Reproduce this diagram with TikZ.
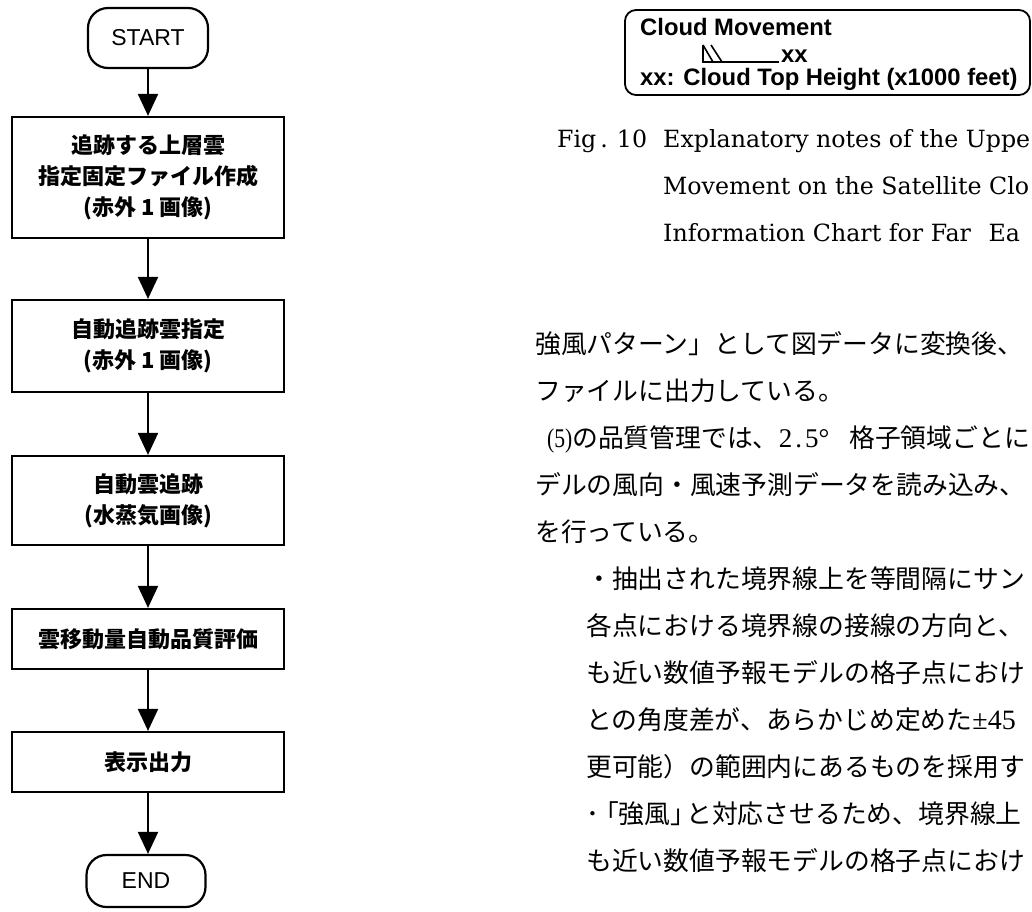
\documentclass[tikz,border=0pt]{standalone}
\usepackage{fontspec}
\usepackage{graphicx}
\usetikzlibrary{arrows.meta}
\newfontfamily\jpfont{Noto Sans CJK JP}
\newfontfamily\helfont{Liberation Sans}
\newfontfamily\serfont{DejaVu Serif}
\newfontfamily\timesfont{Liberation Serif}
\begin{document}
\begin{tikzpicture}[x=1pt,y=-1pt,
  termbox/.style={draw, line width=2.2pt, rounded corners=20pt, minimum width=120pt, minimum height=60pt, inner sep=0pt, font=\helfont\fontsize{23}{23}\selectfont},
  procbox/.style={draw, line width=2.2pt, minimum width=272pt, inner sep=0pt, align=center, font=\jpfont\bfseries\fontsize{22}{31}\selectfont},
  flow/.style={line width=2pt, -{Triangle[width=20pt,length=22pt]}},
  body/.style={anchor=base west, inner sep=0pt, font=\jpfont\fontsize{25.8}{25.8}\selectfont},
  captext/.style={anchor=base west, inner sep=0pt, font=\serfont\fontsize{23.7}{23.7}\selectfont},
  legend/.style={anchor=base west, inner sep=0pt, font=\helfont\bfseries\fontsize{23.8}{23.8}\selectfont},
]
\useasboundingbox (0,0) rectangle (1032,911);
\clip (0,0) rectangle (1032,911);
% flowchart
\node[termbox] (start) at (148,38) {START};
\node[procbox, minimum height=121pt] (b1) at (148,177.5) {追跡する上層雲\\指定固定ファイル作成\\(赤外 1 画像)};
\node[procbox, minimum height=92pt] (b2) at (148,346) {自動追跡雲指定\\(赤外 1 画像)};
\node[procbox, minimum height=89pt] (b3) at (148,500.5) {自動雲追跡\\(水蒸気画像)};
\node[procbox, minimum height=60pt] (b4) at (148,639) {雲移動量自動品質評価};
\node[procbox, minimum height=60pt] (b5) at (148,762) {表示出力};
\node[termbox, minimum width=119pt, minimum height=52pt] (end) at (146,881) {END};
\draw[flow] (start) -- (b1);
\draw[flow] (b1) -- (b2);
\draw[flow] (b2) -- (b3);
\draw[flow] (b3) -- (b4);
\draw[flow] (b4) -- (b5);
\draw[flow] (b5.south) -- (b5.south |- end.north);
% legend box
\node[draw, line width=1.8pt, rounded corners=11pt, minimum width=405pt, minimum height=85pt, inner sep=0pt] (lgbox) at (827.5,52.5) {};
\node[legend] (lg1) at (640,35) {Cloud Movement};
\node[legend] (lg2) at (781,62) {xx};
\node[legend] (lg3) at (640,85) {xx: Cloud Top Height (x1000 feet)};
\coordinate (s1) at (703,45);
\coordinate (s2) at (703,62);
\coordinate (s3) at (779,62);
\coordinate (s4) at (713,62);
\coordinate (s5) at (711,45);
\coordinate (s6) at (722,62);
\draw[line width=1.6pt] (s1) -- (s2) -- (s3);
\draw[line width=1.6pt] (s1) -- (s4);
\draw[line width=1.6pt] (s5) -- (s6);
% caption
\node[captext] (c0) at (557,147) {Fig\kern4pt.\kern9pt10};
\node[captext] (c1) at (663,147) {Explanatory notes of the Uppe};
\node[captext] (c2) at (663,194) {Movement on the Satellite Clo};
\node[captext] (c3) at (663,241) {Information Chart for Far\hspace{10pt} Ea};
% body text
\node[body] (t1) at (535,353) {強風パターン」として図データに変換後、};
\node[body] (t2) at (535,400) {ファイルに出力している。};
\node[body] (t3) at (547,447) {{\timesfont\fontsize{27}{27}\selectfont\scalebox{0.8}[1]{(5)}}の品質管理では、{\timesfont\fontsize{27}{27}\selectfont 2\kern3pt.\kern3pt5°}\kern20pt 格子領域ごとに};
\node[body] (t4) at (535,494) {デルの風向・風速予測データを読み込み、};
\node[body] (t5) at (535,541) {を行っている。};
\node[body] (t6) at (586,588) {・抽出された境界線上を等間隔にサン};
\node[body] (t7) at (586,635) {各点における境界線の接線の方向と、};
\node[body] (t8) at (586,682) {も近い数値予報モデルの格子点におけ};
\node[body] (t9) at (586,729) {との角度差が、あらかじめ定めた{\timesfont\fontsize{28}{28}\selectfont ±45}};
\node[body] (t10) at (586,776) {更可能）の範囲内にあるものを採用す};
\node[body] (t11) at (586,823) {･\kern-6pt「強風」\kern-10ptと対応させるため、境界線上};
\node[body] (t12) at (586,870) {も近い数値予報モデルの格子点におけ};
\end{tikzpicture}
\end{document}
